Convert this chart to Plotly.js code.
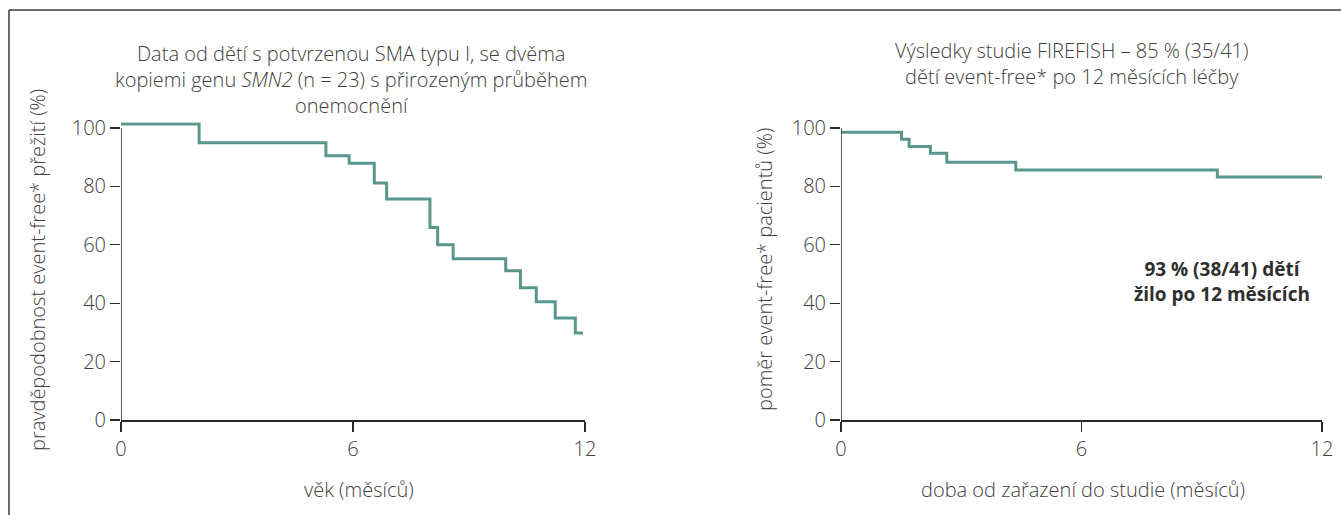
<!DOCTYPE html>
<html>
<head>
<meta charset="utf-8">
<script src="https://cdn.plot.ly/plotly-3.0.1.min.js"></script>
<style>
  html, body { margin: 0; padding: 0; background: #fff; }
  #chart { width: 1341px; height: 515px; }
</style>
</head>
<body>
<div id="chart"></div>
<script>
// ---- data ----
const leftMonths = [0, 2.02, 5.3, 5.9, 6.55, 6.87, 7.99, 8.19, 8.59, 9.95, 10.33, 10.74, 11.23, 11.75, 11.95];
const leftSurvival = [101.4, 95.0, 90.5, 87.9, 81.2, 75.7, 65.9, 60.0, 55.2, 51.1, 45.3, 40.5, 34.9, 29.8, 29.8];

const rightMonths = [0, 1.51, 1.70, 2.23, 2.64, 4.36, 9.39, 12];
const rightEventFree = [98.6, 96.2, 93.7, 91.4, 88.3, 85.6, 83.2, 83.2];

const xTicks = [0, 6, 12];
const yTicks = [0, 20, 40, 60, 80, 100];

const leftTitle = 'Data od dětí s potvrzenou SMA typu I, se dvěma<br>kopiemi genu <i>SMN2</i> (n = 23) s přirozeným průběhem<br>onemocnění';
const rightTitle = 'Výsledky studie FIREFISH – 85 % (35/41)<br>dětí event-free* po 12 měsících léčby';
const leftYTitle = 'pravděpodobnost event-free* přežití (%)';
const rightYTitle = 'poměr event-free* pacientů (%)';
const leftXTitle = 'věk (měsíců)';
const rightXTitle = 'doba od zařazení do studie (měsíců)';
const noteText = '<b>93 % (38/41) dětí</b><br><b>žilo po 12 měsících</b>';

// ---- styling ----
const W = 1341, H = 515;
const FONT = 'Open Sans, Noto Sans, sans-serif';
const TXT = '#404040';
const AX = '#2a2a2a';
const CURVE = '#5a968e';

const px = v => v / W;
const py = v => 1 - v / H;

const tickFont = { family: FONT, size: 20, color: TXT, weight: 300 };

function axX(dom) {
  return {
    domain: dom, range: [0, 12], tickvals: xTicks, ticktext: xTicks.map(String),
    showline: true, linecolor: AX, linewidth: 1.5, mirror: false,
    ticks: 'outside', ticklen: 10, tickwidth: 1.3, tickcolor: AX,
    showgrid: false, zeroline: false, fixedrange: true, automargin: false,
    tickfont: tickFont
  };
}
function axY(dom, anchor) {
  return {
    domain: dom, range: [0, 102], tickvals: yTicks, ticktext: yTicks.map(String),
    showline: false, anchor: anchor,
    ticks: 'outside', ticklen: 10, tickwidth: 1.3, tickcolor: AX,
    showgrid: false, zeroline: false, fixedrange: true, automargin: false,
    tickfont: tickFont
  };
}

const yDom = [(H - 420) / H, (H - 122.2) / H];

const traces = [
  { x: leftMonths, y: leftSurvival, xaxis: 'x', yaxis: 'y', type: 'scatter', mode: 'lines',
    line: { shape: 'hv', color: CURVE, width: 3 }, hoverinfo: 'skip' },
  { x: rightMonths, y: rightEventFree, xaxis: 'x2', yaxis: 'y2', type: 'scatter', mode: 'lines',
    line: { shape: 'hv', color: CURVE, width: 3 }, hoverinfo: 'skip' }
];

const titleFont = { family: FONT, size: 20, color: TXT, weight: 300 };

const layout = {
  width: W, height: H,
  margin: { l: 0, r: 0, t: 0, b: 0 },
  paper_bgcolor: '#fff', plot_bgcolor: 'rgba(0,0,0,0)',
  showlegend: false,
  xaxis: Object.assign(axX([121 / W, 585 / W]), { anchor: 'y' }),
  yaxis: axY(yDom, 'x'),
  xaxis2: Object.assign(axX([841 / W, 1322 / W]), { anchor: 'y2' }),
  yaxis2: axY(yDom, 'x2'),
  shapes: [
    { type: 'line', xref: 'x', yref: 'y', x0: 0, x1: 0, y0: 0, y1: 100, line: { color: AX, width: 1.5 } },
    { type: 'line', xref: 'x2', yref: 'y2', x0: 0, x1: 0, y0: 0, y1: 100, line: { color: AX, width: 1.5 } },
    { type: 'line', xref: 'paper', yref: 'paper', x0: px(9), x1: px(9), y0: 0, y1: py(10), line: { color: '#3a3a3a', width: 1.5 } },
    { type: 'line', xref: 'paper', yref: 'paper', x0: px(9), x1: 1, y0: py(10), y1: py(10), line: { color: '#3a3a3a', width: 1.5 } }
  ],
  annotations: [
    { xref: 'paper', yref: 'paper', x: px(351), y: py(79), text: leftTitle, showarrow: false,
      xanchor: 'center', yanchor: 'middle', align: 'center', font: titleFont },
    { xref: 'paper', yref: 'paper', x: px(1071), y: py(64), text: rightTitle, showarrow: false,
      xanchor: 'center', yanchor: 'middle', align: 'center', font: titleFont },
    { xref: 'paper', yref: 'paper', x: px(37), y: py(270), text: leftYTitle, textangle: -90, showarrow: false,
      xanchor: 'center', yanchor: 'middle', font: titleFont },
    { xref: 'paper', yref: 'paper', x: px(764), y: py(270), text: rightYTitle, textangle: -90, showarrow: false,
      xanchor: 'center', yanchor: 'middle', font: titleFont },
    { xref: 'paper', yref: 'paper', x: px(359), y: py(489), text: leftXTitle, showarrow: false,
      xanchor: 'center', yanchor: 'middle', font: titleFont },
    { xref: 'paper', yref: 'paper', x: px(1083), y: py(489), text: rightXTitle, showarrow: false,
      xanchor: 'center', yanchor: 'middle', font: titleFont },
    { xref: 'x2', yref: 'y2', x: 9.5, y: 47.3, text: noteText, showarrow: false,
      xanchor: 'center', yanchor: 'middle', align: 'center',
      font: { family: FONT, size: 19, color: '#2f2f2f' } }
  ]
};

Plotly.newPlot('chart', traces, layout, { staticPlot: true, displayModeBar: false });
</script>
</body>
</html>
